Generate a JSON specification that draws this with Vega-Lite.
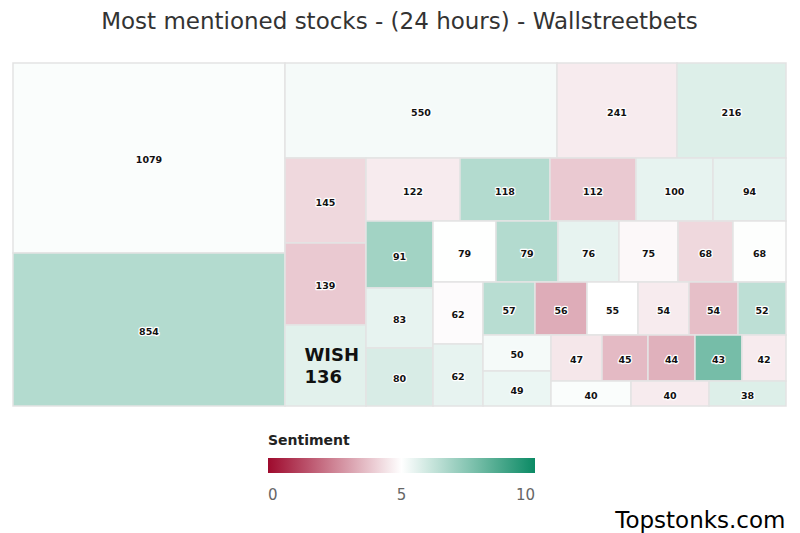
{
  "$schema": "https://vega.github.io/schema/vega-lite/v6.json",
  "width": 773,
  "height": 343,
  "autosize": "none",
  "padding": {"left": 13, "top": 63, "right": 14, "bottom": 127},
  "background": "white",
  "title": {
    "text": "Most mentioned stocks - (24 hours) - Wallstreetbets",
    "font": "DejaVu Sans",
    "fontSize": 23,
    "fontWeight": "normal",
    "color": "#333333",
    "anchor": "middle",
    "offset": 28
  },
  "config": {"view": {"stroke": null}},
  "data": {
    "values": [
      {"count": 1079, "sentiment": 5.1, "x0": 0, "x1": 272, "y0": 0, "y1": 190},
      {"count": 854, "sentiment": 6.55, "x0": 0, "x1": 272, "y0": 190, "y1": 343},
      {"count": 550, "sentiment": 5.2, "x0": 272, "x1": 544, "y0": 0, "y1": 95},
      {"count": 241, "sentiment": 4.6, "x0": 544, "x1": 664, "y0": 0, "y1": 95},
      {"count": 216, "sentiment": 5.7, "x0": 664, "x1": 773, "y0": 0, "y1": 95},
      {"count": 145, "sentiment": 4.2, "x0": 272, "x1": 353, "y0": 95, "y1": 180},
      {"count": 122, "sentiment": 4.6, "x0": 353, "x1": 447, "y0": 95, "y1": 158},
      {"count": 118, "sentiment": 6.55, "x0": 447, "x1": 537, "y0": 95, "y1": 158},
      {"count": 112, "sentiment": 3.9, "x0": 537, "x1": 623, "y0": 95, "y1": 158},
      {"count": 100, "sentiment": 5.5, "x0": 623, "x1": 700, "y0": 95, "y1": 158},
      {"count": 94, "sentiment": 5.5, "x0": 700, "x1": 773, "y0": 95, "y1": 158},
      {"count": 139, "sentiment": 3.9, "x0": 272, "x1": 353, "y0": 180, "y1": 262},
      {"count": 136, "sentiment": 5.6, "x0": 272, "x1": 353, "y0": 262, "y1": 343, "name": "WISH"},
      {"count": 91, "sentiment": 6.9, "x0": 353, "x1": 420, "y0": 158, "y1": 225},
      {"count": 83, "sentiment": 5.5, "x0": 353, "x1": 420, "y0": 225, "y1": 285},
      {"count": 80, "sentiment": 5.8, "x0": 353, "x1": 420, "y0": 285, "y1": 343},
      {"count": 79, "sentiment": 5.02, "x0": 420, "x1": 483, "y0": 158, "y1": 219},
      {"count": 79, "sentiment": 6.55, "x0": 483, "x1": 545, "y0": 158, "y1": 219},
      {"count": 76, "sentiment": 5.5, "x0": 545, "x1": 606, "y0": 158, "y1": 219},
      {"count": 75, "sentiment": 4.85, "x0": 606, "x1": 665, "y0": 158, "y1": 219},
      {"count": 68, "sentiment": 4.2, "x0": 665, "x1": 720, "y0": 158, "y1": 219},
      {"count": 68, "sentiment": 5.05, "x0": 720, "x1": 773, "y0": 158, "y1": 219},
      {"count": 62, "sentiment": 4.92, "x0": 420, "x1": 470, "y0": 219, "y1": 281},
      {"count": 62, "sentiment": 5.5, "x0": 420, "x1": 470, "y0": 281, "y1": 343},
      {"count": 57, "sentiment": 6.45, "x0": 470, "x1": 522, "y0": 219, "y1": 272},
      {"count": 56, "sentiment": 3.3, "x0": 522, "x1": 574, "y0": 219, "y1": 272},
      {"count": 55, "sentiment": 5.0, "x0": 574, "x1": 625, "y0": 219, "y1": 272},
      {"count": 54, "sentiment": 4.6, "x0": 625, "x1": 676, "y0": 219, "y1": 272},
      {"count": 54, "sentiment": 3.7, "x0": 676, "x1": 725, "y0": 219, "y1": 272},
      {"count": 52, "sentiment": 6.35, "x0": 725, "x1": 773, "y0": 219, "y1": 272},
      {"count": 50, "sentiment": 5.2, "x0": 470, "x1": 538, "y0": 272, "y1": 308},
      {"count": 49, "sentiment": 5.4, "x0": 470, "x1": 538, "y0": 308, "y1": 343},
      {"count": 47, "sentiment": 4.5, "x0": 538, "x1": 589, "y0": 272, "y1": 318},
      {"count": 45, "sentiment": 3.6, "x0": 589, "x1": 635, "y0": 272, "y1": 318},
      {"count": 44, "sentiment": 3.4, "x0": 635, "x1": 682, "y0": 272, "y1": 318},
      {"count": 43, "sentiment": 7.8, "x0": 682, "x1": 729, "y0": 272, "y1": 318},
      {"count": 42, "sentiment": 4.6, "x0": 729, "x1": 773, "y0": 272, "y1": 318},
      {"count": 40, "sentiment": 5.1, "x0": 538, "x1": 618, "y0": 318, "y1": 343},
      {"count": 40, "sentiment": 4.6, "x0": 618, "x1": 696, "y0": 318, "y1": 343},
      {"count": 38, "sentiment": 5.7, "x0": 696, "x1": 773, "y0": 318, "y1": 343}
    ]
  },
  "transform": [
    {"calculate": "(datum.x0 + datum.x1) / 2", "as": "cx"},
    {"calculate": "(datum.y0 + datum.y1) / 2", "as": "cy"}
  ],
  "layer": [
    {
      "mark": {"type": "rect", "stroke": "#e3e3e3", "strokeWidth": 1.5},
      "encoding": {
        "x": {
          "field": "x0", "type": "quantitative",
          "scale": {"domain": [0, 773], "nice": false, "zero": false},
          "axis": {
            "domain": false, "ticks": false, "labels": false, "grid": false,
            "title": "Topstonks.com",
            "titleFont": "DejaVu Sans", "titleFontSize": 23, "titleFontWeight": "normal",
            "titleColor": "#000000", "titleAnchor": "end", "titleAlign": "right",
            "titleBaseline": "alphabetic", "titleX": 772, "titleY": 121
          }
        },
        "x2": {"field": "x1"},
        "y": {
          "field": "y0", "type": "quantitative",
          "scale": {"domain": [0, 343], "nice": false, "zero": false, "reverse": true},
          "axis": null
        },
        "y2": {"field": "y1"},
        "color": {
          "field": "sentiment", "type": "quantitative",
          "scale": {"domain": [0, 5, 10], "range": ["#9e0a2d", "#ffffff", "#0b8a64"], "interpolate": "rgb"},
          "legend": {
            "title": "Sentiment",
            "orient": "none",
            "legendX": 255,
            "legendY": 371,
            "direction": "horizontal",
            "gradientLength": 267,
            "gradientThickness": 15,
            "gradientStrokeWidth": 0,
            "values": [0, 5, 10],
            "titleFont": "DejaVu Sans",
            "titleFontSize": 14,
            "titleFontWeight": "bold",
            "titleColor": "#222222",
            "titlePadding": 10,
            "labelFont": "DejaVu Sans",
            "labelFontSize": 15,
            "labelColor": "#666666",
            "labelOffset": 15
          }
        }
      }
    },
    {
      "transform": [{"filter": "!datum.name"}],
      "mark": {"type": "text", "font": "DejaVu Sans", "fontSize": 9.5, "fontWeight": "bold", "stroke": "white", "strokeWidth": 2.5, "strokeJoin": "round", "baseline": "middle", "dy": 2},
      "encoding": {
        "x": {"field": "cx", "type": "quantitative"},
        "y": {"field": "cy", "type": "quantitative"},
        "text": {"field": "count", "type": "nominal"}
      }
    },
    {
      "transform": [{"filter": "!datum.name"}],
      "mark": {"type": "text", "font": "DejaVu Sans", "fontSize": 9.5, "fontWeight": "bold", "color": "#111111", "baseline": "middle", "dy": 2},
      "encoding": {
        "x": {"field": "cx", "type": "quantitative"},
        "y": {"field": "cy", "type": "quantitative"},
        "text": {"field": "count", "type": "nominal"}
      }
    },
    {
      "transform": [
        {"filter": "datum.name"},
        {"calculate": "[datum.name, '' + datum.count]", "as": "lbl"}
      ],
      "mark": {"type": "text", "font": "DejaVu Sans", "fontSize": 18, "fontWeight": "bold", "color": "#111111", "align": "left", "baseline": "middle", "dx": -21, "dy": -10, "lineHeight": 22},
      "encoding": {
        "x": {"field": "cx", "type": "quantitative"},
        "y": {"field": "cy", "type": "quantitative"},
        "text": {"field": "lbl"}
      }
    }
  ]
}
